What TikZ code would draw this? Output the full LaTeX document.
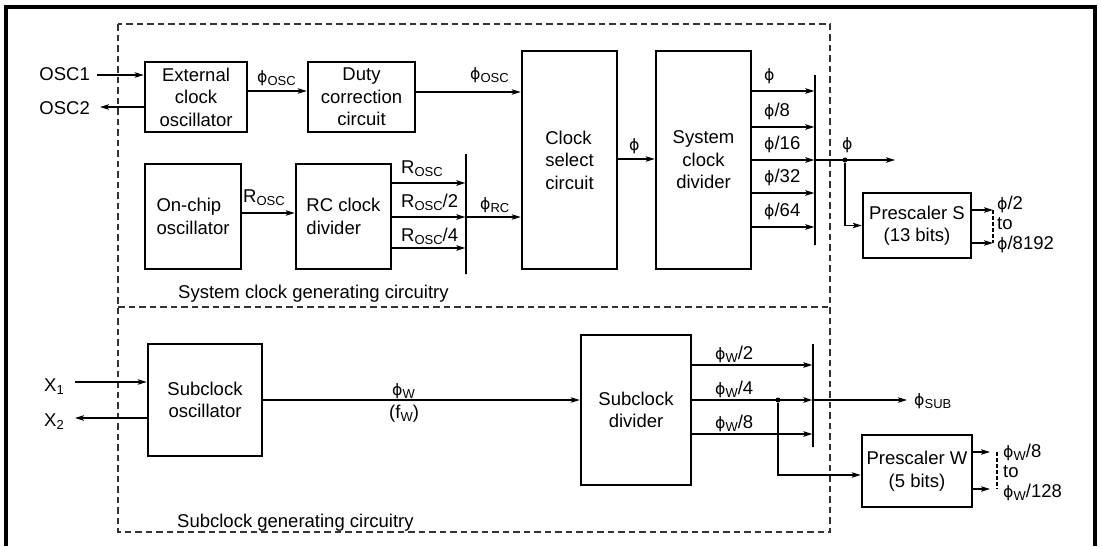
\documentclass[tikz,border=0pt]{standalone}
\usepackage{fontspec}
\setmainfont{Liberation Sans}
\newfontfamily\djv{DejaVu Sans}[Scale=0.85]
\usetikzlibrary{arrows.meta}
\newcommand{\sbs}[1]{\raisebox{-3.4pt}{\fontsize{13pt}{13pt}\selectfont #1}}
\newcommand{\ph}{{\djv ϕ}}
\begin{document}
\begin{tikzpicture}[x=1pt,y=-1pt,
  font=\fontsize{18.5pt}{22.5pt}\selectfont,
  blk/.style={draw, line width=2.6pt, inner sep=0pt, align=center},
  ln/.style={line width=1.3pt},
  arr/.style={ln, -{Stealth[length=9pt,width=5.5pt,inset=2pt]}},
  lbl/.style={inner sep=0pt, anchor=base west},
  barn/.style={draw, line width=1.3pt, minimum width=0pt, inner sep=0pt},
  dot/.style={circle, fill, inner sep=0pt, minimum size=5pt},
  frame/.style={dash pattern=on 6.5pt off 4pt, line width=1.3pt, draw=black!80},
  sdash/.style={dash pattern=on 3.5pt off 2.5pt, line width=1.2pt}]
\useasboundingbox (0,0) rectangle (1102,546);
\draw[line width=3.2pt] (6,546) -- (6,7) -- (1095,7) -- (1095,546);
\draw[frame] (118,24) rectangle (830,532);
\draw[frame] (118,307) -- (830,307);

% row coordinates
\foreach \yy in {75,91,92,107,127,159,160,183,193,213,217,227,248,365,382,400,418,434,452,475,489}
  {\coordinate (y\yy) at (0,\yy);}

% blocks
\node[blk, minimum width=102pt, minimum height=70pt] (ext) at (196,97) {External\\clock\\oscillator};
\node[blk, minimum width=107pt, minimum height=70pt] (duty) at (361.5,97) {Duty\\correction\\circuit};
\node[blk, minimum width=96pt, minimum height=105pt, align=left] (onchip) at (193,216.5) {On-chip\\oscillator};
\node[blk, minimum width=95pt, minimum height=105pt, align=left] (rcdiv) at (343.5,216.5) {RC clock\\divider};
\node[blk, minimum width=95pt, minimum height=218pt, align=left] (clksel) at (569.5,160) {Clock\\select\\circuit};
\node[blk, minimum width=95pt, minimum height=218pt] (sysdiv) at (703.5,160) {System\\clock\\divider};
\node[blk, minimum width=108pt, minimum height=65pt] (pres) at (917,225.5) {Prescaler S\\(13 bits)};
\node[blk, minimum width=114pt, minimum height=112pt] (subosc) at (205,400) {Subclock\\oscillator};
\node[blk, minimum width=110pt, minimum height=150pt] (subdiv) at (636,410) {Subclock\\divider};
\node[blk, minimum width=110pt, minimum height=72pt] (presw) at (917,471) {Prescaler W\\(5 bits)};

% bars
\node[barn, minimum height=120pt] (bar1) at (466,214) {};
\node[barn, minimum height=170pt] (bar2) at (815,160) {};
\node[barn, minimum height=103pt] (bar3) at (813,395.5) {};

% OSC pins
\node[lbl, anchor=base east] (osc1) at (90,80) {OSC1};
\node[lbl, anchor=base east] (osc2) at (90,114) {OSC2};
\coordinate (osc1s) at (97,75);
\coordinate (osc2t) at (100,107);
\draw[arr] (osc1s) -- (osc1s -| ext.west);
\draw[arr] (osc2t -| ext.west) -- (osc2t);

% top row
\draw[arr] (ext.east |- y91) -- (duty.west |- y91);
\node[lbl] (lphiosc1) at (257,82) {\ph\sbs{OSC}};
\draw[arr] (duty.east |- y92) -- (clksel.west |- y92);
\node[lbl] (lphiosc2) at (470,79) {\ph\sbs{OSC}};

% RC row
\draw[arr] (onchip.east |- y213) -- (rcdiv.west |- y213);
\node[lbl] (lrosc) at (243,202) {R\sbs{OSC}};
\draw[arr] (rcdiv.east |- y183) -- (bar1.west |- y183);
\draw[arr] (rcdiv.east |- y217) -- (bar1.west |- y217);
\draw[arr] (rcdiv.east |- y248) -- (bar1.west |- y248);
\node[lbl] (lr1) at (401,173) {R\sbs{OSC}};
\node[lbl] (lr2) at (401,207) {R\sbs{OSC}/2};
\node[lbl] (lr4) at (401,241) {R\sbs{OSC}/4};
\draw[arr] (bar1.east |- y217) -- (clksel.west |- y217);
\node[lbl] (lphirc) at (480,209) {\ph\sbs{RC}};

% clock select -> system divider
\draw[arr] (clksel.east |- y159) -- (sysdiv.west |- y159);
\node[lbl] (lphi) at (629,150) {\ph};

% system divider outputs
\foreach \yy/\lab in {91/{\ph}, 127/{\ph/8}, 160/{\ph/16}, 193/{\ph/32}, 227/{\ph/64}}{
  \draw[arr] (sysdiv.east |- y\yy) -- (bar2.west |- y\yy);
  \node[lbl] (ls\yy) at (764,\yy-11) {\lab};
}
\coordinate (phiend) at (895,160);
\node[dot] (d1) at (845,160) {};
\draw[arr] (bar2.east |- y160) -- (phiend);
\node[lbl] (lphiout) at (842,149) {\ph};
\draw[arr] (d1) |- (pres.west);

% prescaler S outputs
\coordinate (ps1) at (993,210);
\coordinate (ps2) at (993,243);
\draw[arr] (pres.east |- ps1) -- (ps1);
\draw[arr] (pres.east |- ps2) -- (ps2);
\draw[sdash] (ps1) -- (ps2);
\node[lbl] (lps1) at (997,209) {\ph/2};
\node[lbl] (lps2) at (997,229) {to};
\node[lbl] (lps3) at (997,249) {\ph/8192};

\node[lbl] (lsys) at (178,298) {System clock generating circuitry};

% subclock
\node[lbl] (x1) at (44,391) {X\sbs{1}};
\node[lbl] (x2) at (44,426) {X\sbs{2}};
\coordinate (x1s) at (75,382);
\coordinate (x2t) at (75,418);
\draw[arr] (x1s) -- (x1s -| subosc.west);
\draw[arr] (x2t -| subosc.west) -- (x2t);
\draw[arr] (subosc.east |- y400) -- (subdiv.west |- y400);
\node[lbl] (lphiw) at (392,395) {\ph\sbs{W}};
\node[lbl] (lfw) at (389,418) {(f\sbs{W})};

\foreach \yy/\lab in {365/2, 400/4, 434/8}{
  \draw[arr] (subdiv.east |- y\yy) -- (bar3.west |- y\yy);
  \node[lbl] (lw\yy) at (715,\yy-6) {\ph\sbs{W}/\lab};
}
\coordinate (subend) at (907,400);
\node[dot] (d2) at (778,400) {};
\draw[arr] (bar3.east |- y400) -- (subend);
\node[lbl] (lsub) at (914,405) {\ph\sbs{SUB}};
\draw[arr] (d2) |- (presw.west |- y475);

\coordinate (pw1) at (990,452);
\coordinate (pw2) at (990,489);
\draw[arr] (presw.east |- pw1) -- (pw1);
\draw[arr] (presw.east |- pw2) -- (pw2);
\draw[sdash] (997,452) -- (997,489);
\node[lbl] (lpw1) at (1003,457) {\ph\sbs{W}/8};
\node[lbl] (lpw2) at (1003,477) {to};
\node[lbl] (lpw3) at (1003,497) {\ph\sbs{W}/128};

\node[lbl] (lsubc) at (177,527) {Subclock generating circuitry};
\end{tikzpicture}
\end{document}
